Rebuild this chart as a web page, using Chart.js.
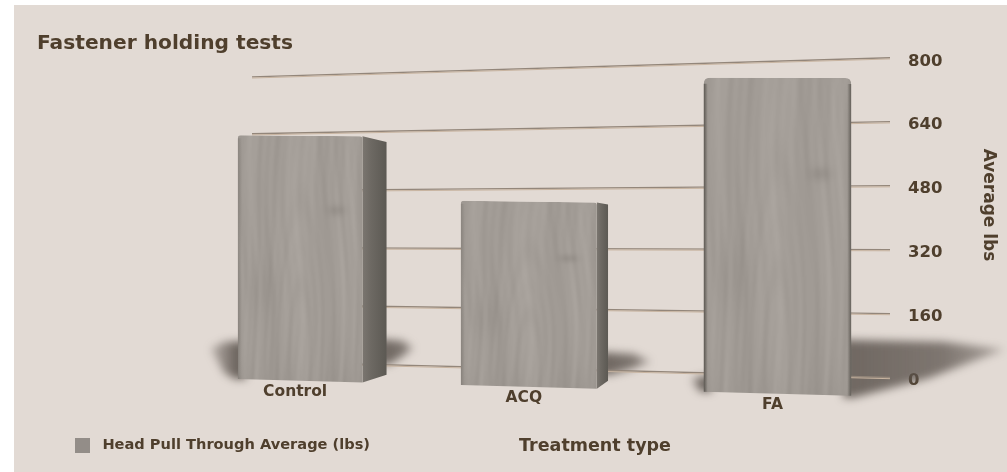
<!DOCTYPE html>
<html lang="en">
<head>
    <meta charset="UTF-8">
    <title>Fastener holding tests</title>
    <script src="https://cdn.jsdelivr.net/npm/chart.js"></script>
    <style>
        html, body { margin: 0; background: #fff; }
        canvas { display: block; }
    </style>
</head>
<body>
<canvas id="chart" width="1007" height="472"></canvas>
<script>
    const treatments = ['Control', 'ACQ', 'FA'];
    const headPullThrough = [608, 452, 755];
    const yTicks = [0, 160, 320, 480, 640, 800];
    const seriesName = ' Head Pull Through Average (lbs)';
    const chartTitle = 'Fastener holding tests';
    const xTitle = 'Treatment type';
    const yTitle = 'Average lbs';

    const ink = '#4f3f2d';
    const fontFamily = '"DejaVu Sans", sans-serif';

    // back wall: the lines run from here to just short of the right axis
    const wallLeft = 252;
    const wallRight = 890;
    // box perspective
    const vanishX = 800;
    const vanishY = 242;
    const depth = 0.945;
    const xBend = 0.000175;
    // floor shadow of each box, in pixels from its front corners
    const shadowStyle = [
        {left: 27, leftRise: 38, right: 27, rise: 40, drop: -18, tip: 0.36},
        {left: 0, leftRise: 0, right: 43, rise: 33, drop: -14, tip: 0.43},
        {left: 13, leftRise: 16, right: 153, rise: 52, drop: 2, tip: 0.17}
    ];

    // grey wood grain, cathedral figure low in the middle
    function makeWood(w, h) {
        const c = document.createElement('canvas');
        c.width = w;
        c.height = h;
        const g = c.getContext('2d');
        const img = g.createImageData(w, h);
        for (let y = 0; y < h; y++) {
            for (let x = 0; x < w; x++) {
                const u = x / w - 0.5;
                const v = y / h;
                const r = Math.sqrt(u * u + Math.pow((0.97 - v) * 0.22, 2));
                const sway = Math.sin(v * 6 + u * 4) * 0.015;
                let n = Math.sin((r + sway) * 62) * (0.8 + v * 1.4)
                    + Math.sin((r + sway) * 130 + 1.3) * 1
                    + Math.sin(x * 0.31 + Math.sin(y * 0.011) * 3) * 1.3
                    + Math.sin(x * 0.13 + 2 + Math.sin(y * 0.008 + 1) * 2) * 1.8
                    + Math.sin(x * 0.047 + 0.6 + Math.sin(y * 0.006) * 0.8) * 3.2;
                // a couple of knots
                const k1 = Math.pow((u - 0.29) * 14, 2) + Math.pow((v - 0.3) * 42, 2);
                const k2 = Math.pow((u + 0.3) * 7, 2) + Math.pow((v - 0.62) * 9, 2);
                n -= Math.exp(-k1) * 13 + Math.exp(-k2) * 5;
                n -= Math.pow(v, 8) * 5;
                n -= Math.pow(Math.abs(u) * 2, 10) * 8;
                const i = (y * w + x) * 4;
                img.data[i] = 163 + n;
                img.data[i + 1] = 157 + n;
                img.data[i + 2] = 151 + n;
                img.data[i + 3] = 255;
            }
        }
        g.putImageData(img, 0, 0);
        return c;
    }
    const wood = makeWood(300, 600);

    function wallY(chart, x, value) {
        const y = chart.scales.y.getPixelForValue(value);
        const t = (wallRight - x) / (wallRight - wallLeft);
        return y + (25.5 + 0.89 * y - y) * t;
    }

    // front plane of the boxes, a little nearer than the wall
    function frontY(chart, x, value) {
        const scale = chart.scales.y;
        const zero = scale.getPixelForValue(0);
        const rise = (zero - scale.getPixelForValue(value)) * (1.0025 + 0.0000818 * (x - 238));
        return zero + 1 + 0.0273 * (x - 238) - rise;
    }

    function bendX(chart, x) {
        const xs = chart.getDatasetMeta(0).data;
        return x + xBend * (x - xs[0].x) * (x - xs[xs.length - 1].x);
    }

    function toBack(p) {
        return {x: vanishX + depth * (p.x - vanishX), y: vanishY + depth * (p.y - vanishY)};
    }

    function quad(ctx, pts) {
        ctx.beginPath();
        pts.forEach((p, i) => i ? ctx.lineTo(p.x, p.y) : ctx.moveTo(p.x, p.y));
        ctx.closePath();
    }

    function boxCorners(chart, bar, value) {
        const left = bendX(chart, bar.x - bar.width / 2);
        const right = bendX(chart, bar.x + bar.width / 2);
        return {
            tl: {x: left, y: frontY(chart, left, value)},
            tr: {x: right, y: frontY(chart, right, value)},
            br: {x: right, y: frontY(chart, right, 0)},
            bl: {x: left, y: frontY(chart, left, 0)}
        };
    }

    function drawShadow(ctx, box, s) {
        const rightX = Math.max(box.br.x, toBack(box.br).x);
        ctx.save();
        ctx.filter = 'blur(4px)';
        if (s.right) {
            const top = box.bl.y - s.rise;
            const bottom = box.br.y + s.drop;
            const tipY = top + (bottom - top) * s.tip;
            const g = ctx.createLinearGradient(rightX, 0, rightX + s.right, 0);
            g.addColorStop(0, 'rgba(92,84,78,0.85)');
            g.addColorStop(0.6, 'rgba(92,84,78,0.75)');
            g.addColorStop(1, 'rgba(92,84,78,0.4)');
            ctx.fillStyle = g;
            quad(ctx, [
                {x: rightX - 8, y: top},
                {x: rightX + s.right * 0.6, y: top + 2},
                {x: rightX + s.right, y: tipY},
                {x: rightX + s.right * 0.5, y: tipY + (bottom - tipY) * 0.6},
                {x: rightX + 2, y: bottom},
                {x: rightX - 8, y: bottom}
            ]);
            ctx.fill();
        }
        if (s.left) {
            const top = box.bl.y - s.leftRise;
            const g = ctx.createLinearGradient(box.bl.x, 0, box.bl.x - s.left, 0);
            g.addColorStop(0, 'rgba(92,84,78,0.9)');
            g.addColorStop(1, 'rgba(92,84,78,0.3)');
            ctx.fillStyle = g;
            quad(ctx, [
                {x: box.bl.x + 8, y: top},
                {x: box.bl.x - s.left * 0.5, y: top + 1},
                {x: box.bl.x - s.left, y: top + s.leftRise * 0.2},
                {x: box.bl.x - s.left * 0.5, y: box.bl.y - s.leftRise * 0.15},
                {x: box.bl.x - 3, y: box.bl.y},
                {x: box.bl.x + 8, y: box.bl.y}
            ]);
            ctx.fill();
        }
        ctx.restore();
    }

    function drawBox(ctx, box) {
        const backTR = toBack(box.tr);
        const backBR = toBack(box.br);
        const hasSide = backTR.x > box.tr.x;

        // right side face, only where it sticks out past the front
        if (hasSide) {
            const g = ctx.createLinearGradient(box.tr.x, 0, backTR.x, 0);
            g.addColorStop(0, '#7b7670');
            g.addColorStop(0.35, '#6d6963');
            g.addColorStop(1, '#5c5953');
            ctx.fillStyle = g;
            quad(ctx, [box.tr, backTR, backBR, box.br]);
            ctx.fill();
        }

        // front face, grain mapped on to the corners
        const r = hasSide ? 3 : 6;
        const w = box.tr.x - box.tl.x;
        const skew = box.tr.y - box.tl.y;
        const h = Math.max(box.bl.y - box.tl.y, box.br.y - box.tr.y) + 1;
        ctx.save();
        ctx.beginPath();
        ctx.moveTo(box.tl.x, box.tl.y + r);
        ctx.quadraticCurveTo(box.tl.x, box.tl.y, box.tl.x + r, box.tl.y);
        ctx.lineTo(box.tr.x - r, box.tr.y);
        ctx.quadraticCurveTo(box.tr.x, box.tr.y, box.tr.x, box.tr.y + r);
        ctx.lineTo(box.br.x, box.br.y);
        ctx.lineTo(box.bl.x, box.bl.y);
        ctx.closePath();
        ctx.clip();
        ctx.transform(w / wood.width, skew / wood.width, 0, h / wood.height, box.tl.x, box.tl.y);
        ctx.drawImage(wood, 0, 0);
        ctx.restore();

        // dark rim on the upright edges, heavy when no side face shows
        const rim = ctx.createLinearGradient(box.tl.x, 0, box.tr.x, 0);
        const e = 4 / w;
        rim.addColorStop(0, hasSide ? 'rgba(80,76,70,0.25)' : 'rgba(80,76,70,0.85)');
        rim.addColorStop(e, 'rgba(80,76,70,0)');
        rim.addColorStop(1 - e, 'rgba(80,76,70,0)');
        rim.addColorStop(1, hasSide ? 'rgba(80,76,70,0)' : 'rgba(80,76,70,0.75)');
        ctx.fillStyle = rim;
        quad(ctx, [
            {x: box.tl.x, y: box.tl.y + r},
            {x: box.tr.x, y: box.tr.y + r},
            box.br,
            box.bl
        ]);
        ctx.fill();
    }

    function drawText(ctx, text, x, y, font, rotation) {
        ctx.save();
        ctx.translate(x, y);
        ctx.rotate(rotation || 0);
        ctx.font = font;
        ctx.fillStyle = ink;
        ctx.textAlign = 'center';
        ctx.textBaseline = 'middle';
        ctx.fillText(text, 0, 0);
        ctx.restore();
    }

    const scenePlugin = {
        id: 'scene',
        afterLayout(chart) {
            // both blocks sit away from their usual slots
            chart.titleBlock.left = 37;
            const legend = chart.legend;
            const h = legend.bottom - legend.top;
            legend.left = 65;
            legend.top = 428;
            legend.bottom = legend.top + h;
        },
        beforeDraw(chart) {
            const ctx = chart.ctx;
            ctx.fillStyle = '#e2dad4';
            ctx.fillRect(14, 5, chart.width - 14, chart.height - 5);
        },
        beforeDatasetDraw(chart, args) {
            const ctx = chart.ctx;
            const bars = args.meta.data;
            const boxes = bars.map((bar, i) => boxCorners(chart, bar, headPullThrough[i]));

            boxes.forEach((box, i) => drawShadow(ctx, box, shadowStyle[i]));

            chart.scales.y.ticks.forEach(tick => {
                const a = wallY(chart, wallLeft, tick.value);
                const b = wallY(chart, wallRight, tick.value);
                ctx.lineWidth = 1.3;
                ctx.strokeStyle = '#93867a';
                ctx.beginPath();
                ctx.moveTo(wallLeft, a - 0.5);
                ctx.lineTo(wallRight, b - 0.5);
                ctx.stroke();
                ctx.lineWidth = 1;
                ctx.strokeStyle = '#c8b4a0';
                ctx.beginPath();
                ctx.moveTo(wallLeft, a + 0.7);
                ctx.lineTo(wallRight, b + 0.7);
                ctx.stroke();
            });

            boxes.forEach(box => drawBox(ctx, box));

            // category names follow the box fronts down the floor
            boxes.forEach((box, i) => {
                const x = (box.bl.x + box.br.x) / 2 - 5;
                const y = (box.bl.y + box.br.y) / 2 + 11.5;
                drawText(ctx, chart.scales.x.getLabelForValue(i), x, y, 'bold 15.5px ' + fontFamily);
            });
            return false;
        },
        afterDraw(chart) {
            const ctx = chart.ctx;
            drawText(ctx, xTitle, 595, 446, 'bold 17.5px ' + fontFamily);
            drawText(ctx, yTitle, 988, 205, 'bold 17px ' + fontFamily, Math.PI / 2);
        }
    };

    new Chart(document.getElementById('chart'), {
        type: 'bar',
        data: {
            labels: treatments,
            datasets: [{
                label: seriesName,
                data: headPullThrough,
                backgroundColor: '#938d88',
                barPercentage: 0.57,
                categoryPercentage: 1
            }]
        },
        options: {
            responsive: false,
            animation: false,
            layout: {padding: {left: 180, right: 0, top: 0, bottom: 51}},
            plugins: {
                title: {
                    display: true,
                    text: chartTitle,
                    align: 'start',
                    color: ink,
                    font: {family: fontFamily, size: 20.2, weight: 'bold'},
                    padding: {top: 32, bottom: 2}
                },
                legend: {
                    position: 'bottom',
                    align: 'start',
                    labels: {
                        boxWidth: 15,
                        boxHeight: 15,
                        color: ink,
                        font: {family: fontFamily, size: 14.6, weight: 'bold'}
                    }
                },
                tooltip: {enabled: false}
            },
            scales: {
                x: {
                    grid: {display: false},
                    border: {display: false},
                    ticks: {display: false}
                },
                y: {
                    position: 'right',
                    min: yTicks[0],
                    max: yTicks[yTicks.length - 1],
                    afterFit(scale) { scale.width = 111; },
                    afterBuildTicks(scale) { scale.ticks = yTicks.map(value => ({value})); },
                    grid: {display: false, drawTicks: false},
                    border: {display: false},
                    ticks: {
                        padding: 12,
                        labelOffset: 3,
                        color: ink,
                        font: {family: fontFamily, size: 16.5, weight: 'bold'}
                    }
                }
            }
        },
        plugins: [scenePlugin]
    });
</script>
</body>
</html>
